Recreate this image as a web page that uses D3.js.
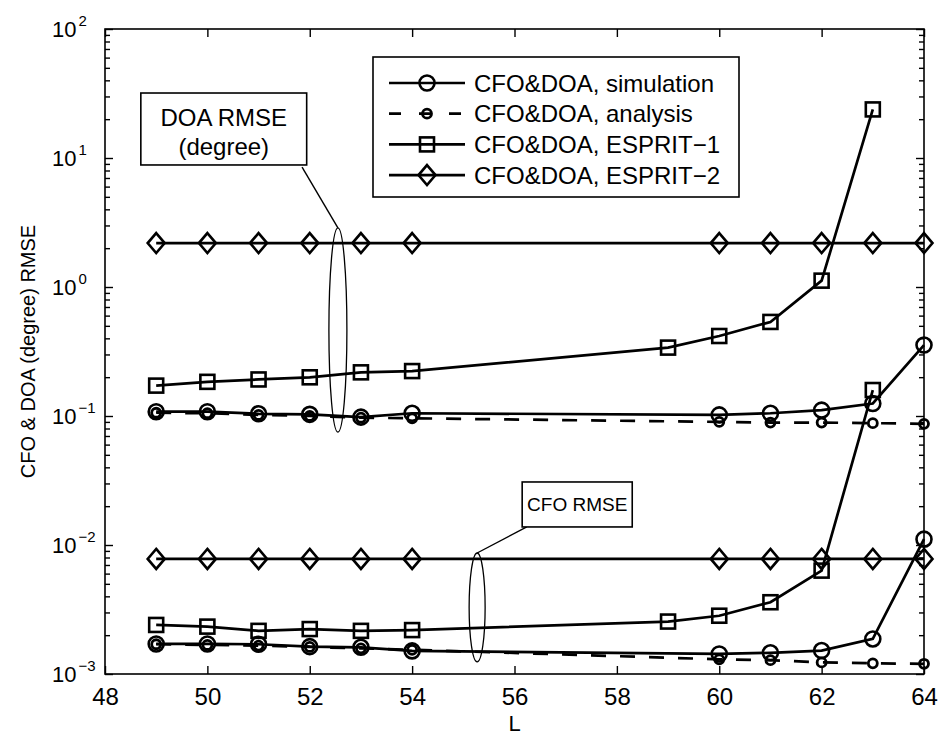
<!DOCTYPE html>
<html>
<head>
<meta charset="utf-8">
<script src="https://cdn.jsdelivr.net/npm/d3@7"></script>
<style>
  body { margin: 0; background: #fff; }
  svg text { font-family: "Liberation Sans", Arial, sans-serif; fill: #000; }
</style>
</head>
<body>
<svg id="canvas"></svg>
<script>
// Data.
var Lsim  = [49, 50, 51, 52, 53, 54, 60, 61, 62, 63, 64];
var Lesp1 = [49, 50, 51, 52, 53, 54, 59, 60, 61, 62, 63];

var doaSim = [0.108, 0.108, 0.104, 0.103, 0.098, 0.105, 0.102, 0.105, 0.111, 0.125, 0.355];
var cfoSim = [0.00171, 0.00171, 0.00170, 0.00163, 0.00161, 0.00151, 0.00143, 0.00146, 0.00152, 0.00187, 0.0111];

var doaAna = [0.106, 0.105, 0.102, 0.100, 0.097, 0.096, 0.090, 0.089, 0.089, 0.088, 0.087];
var cfoAna = [0.00170, 0.00168, 0.00166, 0.00162, 0.00158, 0.00154, 0.00130, 0.00128, 0.00123, 0.00121, 0.00120];

var doaEsp1 = [0.172, 0.184, 0.192, 0.1995, 0.218, 0.223, 0.339, 0.417, 0.536, 1.12, 23.8];
var cfoEsp1 = [0.00240, 0.00233, 0.00216, 0.00223, 0.00216, 0.00219, 0.00255, 0.00283, 0.00360, 0.00633, 0.159];

var doaEsp2 = [2.19, 2.19, 2.19, 2.19, 2.19, 2.19, 2.19, 2.19, 2.19, 2.19, 2.19];
var cfoEsp2 = [0.0078, 0.0078, 0.0078, 0.0078, 0.0078, 0.0078, 0.0078, 0.0078, 0.0078, 0.0078, 0.0078];

var xTicks = [48, 50, 52, 54, 56, 58, 60, 62, 64];
var yExps  = [-3, -2, -1, 0, 1, 2];

var legendLabels = ['CFO&DOA, simulation', 'CFO&DOA, analysis', 'CFO&DOA, ESPRIT\u22121', 'CFO&DOA, ESPRIT\u22122'];

// Canvas and plot box.
var width = 940, height = 740;
var plot = { left: 105, right: 924, top: 29, bottom: 674 };

var svg = d3.select('#canvas').attr('width', width).attr('height', height);

var x = d3.scaleLinear().domain([48, 64]).range([plot.left, plot.right]);
var y = d3.scaleLog().domain([1e-3, 1e2]).range([plot.bottom, plot.top]);

// Minor log ticks (2..9 per decade).
var minor = [];
yExps.slice(0, -1).forEach(function(e) {
  for (var k = 2; k <= 9; k++) minor.push(k * Math.pow(10, e));
});
var majors = yExps.map(function(e) { return Math.pow(10, e); });

function styleAxis(g) {
  g.select('.domain').remove();
  g.selectAll('.tick line').attr('stroke', '#000').attr('stroke-width', 1.4);
}

// Bottom / top axes.
var gx = svg.append('g')
  .attr('transform', 'translate(0,' + plot.bottom + ')')
  .call(d3.axisBottom(x).tickValues(xTicks).tickSize(-8).tickPadding(14).tickFormat(d3.format('d')));
styleAxis(gx);
gx.selectAll('.tick text').attr('font-size', 24).attr('fill', '#000');

svg.append('g')
  .attr('transform', 'translate(0,' + plot.top + ')')
  .call(d3.axisTop(x).tickValues(xTicks).tickSize(-8).tickFormat(''))
  .call(styleAxis);

// Left / right axes, majors and minors.
var gy = svg.append('g')
  .attr('transform', 'translate(' + plot.left + ',0)')
  .call(d3.axisLeft(y).tickValues(majors).tickSize(-8).tickFormat(''));
styleAxis(gy);

svg.append('g')
  .attr('transform', 'translate(' + plot.left + ',0)')
  .call(d3.axisLeft(y).tickValues(minor).tickSize(-5).tickFormat(''))
  .call(styleAxis);

svg.append('g')
  .attr('transform', 'translate(' + plot.right + ',0)')
  .call(d3.axisRight(y).tickValues(majors).tickSize(-8).tickFormat(''))
  .call(styleAxis);

svg.append('g')
  .attr('transform', 'translate(' + plot.right + ',0)')
  .call(d3.axisRight(y).tickValues(minor).tickSize(-5).tickFormat(''))
  .call(styleAxis);

// Y tick labels 10^n.
yExps.forEach(function(e) {
  var t = svg.append('text')
    .attr('x', plot.left - 53)
    .attr('y', y(Math.pow(10, e)))
    .attr('dy', '0.36em')
    .attr('font-size', 22);
  t.append('tspan').text('10');
  t.append('tspan').attr('dx', 2).attr('dy', -11).attr('font-size', 15)
    .text(e < 0 ? '\u2212' + (-e) : String(e));
});

// Plot box.
svg.append('rect')
  .attr('x', plot.left).attr('y', plot.top)
  .attr('width', plot.right - plot.left).attr('height', plot.bottom - plot.top)
  .attr('fill', 'none').attr('stroke', '#000').attr('stroke-width', 1.6);

// Axis titles.
svg.append('text')
  .attr('text-anchor', 'middle')
  .attr('transform', 'translate(' + 35 + ',' + (plot.top + plot.bottom) / 2 + ')rotate(-90)')
  .attr('font-size', 20)
  .text('CFO & DOA (degree) RMSE');

svg.append('text')
  .attr('text-anchor', 'middle')
  .attr('x', (plot.left + plot.right) / 2)
  .attr('y', 731)
  .attr('font-size', 22)
  .text('L');

// Markers.
function drawMarker(g, kind, cx, cy) {
  var common = function(s) { return s.attr('fill', 'none').attr('stroke', '#000').attr('stroke-width', 2.6); };
  if (kind === 'circle') {
    common(g.append('circle').attr('cx', cx).attr('cy', cy).attr('r', 7.5));
  } else if (kind === 'small') {
    common(g.append('circle').attr('cx', cx).attr('cy', cy).attr('r', 4.5)).attr('stroke-width', 2.8);
  } else if (kind === 'square') {
    common(g.append('rect').attr('x', cx - 7).attr('y', cy - 7).attr('width', 14).attr('height', 14));
  } else if (kind === 'diamond') {
    common(g.append('path').attr('d', 'M' + cx + ',' + (cy - 10) + 'L' + (cx + 8.5) + ',' + cy +
      'L' + cx + ',' + (cy + 10) + 'L' + (cx - 8.5) + ',' + cy + 'Z'));
  }
}

var dash = '15,14';
var series = [
  { xs: Lsim,  ys: doaSim,  marker: 'circle',  dash: null },
  { xs: Lsim,  ys: cfoSim,  marker: 'circle',  dash: null },
  { xs: Lsim,  ys: doaAna,  marker: 'small',   dash: dash },
  { xs: Lsim,  ys: cfoAna,  marker: 'small',   dash: dash },
  { xs: Lesp1, ys: doaEsp1, marker: 'square',  dash: null },
  { xs: Lesp1, ys: cfoEsp1, marker: 'square',  dash: null },
  { xs: Lsim,  ys: doaEsp2, marker: 'diamond', dash: null },
  { xs: Lsim,  ys: cfoEsp2, marker: 'diamond', dash: null }
];

var line = d3.line().x(function(d) { return x(d[0]); }).y(function(d) { return y(d[1]); });

series.forEach(function(s) {
  var pts = s.xs.map(function(v, i) { return [v, s.ys[i]]; });
  var g = svg.append('g');
  g.append('path')
    .attr('d', line(pts))
    .attr('fill', 'none')
    .attr('stroke', '#000')
    .attr('stroke-width', 2.7)
    .attr('stroke-dasharray', s.dash);
  pts.forEach(function(p) { drawMarker(g, s.marker, x(p[0]), y(p[1])); });
});

// Annotations: ellipses, leader lines and label boxes (data coordinates).
function ellipse(cxv, topv, botv, rx) {
  var top = y(topv), bot = y(botv);
  svg.append('ellipse')
    .attr('cx', x(cxv)).attr('cy', (top + bot) / 2)
    .attr('rx', rx).attr('ry', (bot - top) / 2)
    .attr('fill', 'none').attr('stroke', '#000').attr('stroke-width', 1.3);
}
function leader(x1, y1, x2, y2) {
  svg.append('line')
    .attr('x1', x(x1)).attr('y1', y(y1)).attr('x2', x(x2)).attr('y2', y(y2))
    .attr('stroke', '#000').attr('stroke-width', 1.4);
}
function box(x1, y1, x2, y2) {
  svg.append('rect')
    .attr('x', x(x1)).attr('y', y(y1))
    .attr('width', x(x2) - x(x1)).attr('height', y(y2) - y(y1))
    .attr('fill', '#fff').attr('stroke', '#000').attr('stroke-width', 1.6);
}

// DOA annotation.
ellipse(52.55, 2.87, 0.075, 9);
leader(51.85, 8.5, 52.55, 2.87);
box(48.70, 31.9, 51.94, 8.83);
svg.append('text').attr('text-anchor', 'middle')
  .attr('x', x(50.32)).attr('y', y(31.9) + 33).attr('font-size', 24).text('DOA RMSE');
svg.append('text').attr('text-anchor', 'middle')
  .attr('x', x(50.32)).attr('y', y(31.9) + 62).attr('font-size', 24).text('(degree)');

// CFO annotation.
ellipse(55.27, 0.00867, 0.00124, 8);
leader(56.24, 0.0138, 55.27, 0.00867);
box(56.15, 0.0308, 58.30, 0.0138);
svg.append('text').attr('text-anchor', 'middle')
  .attr('x', (x(56.15) + x(58.30)) / 2).attr('y', (y(0.0308) + y(0.0138)) / 2)
  .attr('dy', '0.36em').attr('font-size', 19).text('CFO RMSE');

// Legend.
var legend = { x: 373, y: 57, w: 366, h: 140, row0: 83, rowStep: 30.7, lx1: 389, lx2: 465, tx: 474 };
svg.append('rect')
  .attr('x', legend.x).attr('y', legend.y).attr('width', legend.w).attr('height', legend.h)
  .attr('fill', '#fff').attr('stroke', '#000').attr('stroke-width', 1.6);

var legendMarkers = ['circle', 'small', 'square', 'diamond'];
legendLabels.forEach(function(lbl, i) {
  var ry = legend.row0 + i * legend.rowStep;
  var g = svg.append('g');
  g.append('line')
    .attr('x1', legend.lx1).attr('x2', legend.lx2).attr('y1', ry).attr('y2', ry)
    .attr('stroke', '#000').attr('stroke-width', 2.7)
    .attr('stroke-dasharray', i === 1 ? '12,18' : null);
  drawMarker(g, legendMarkers[i], (legend.lx1 + legend.lx2) / 2, ry);
  g.append('text')
    .attr('x', legend.tx).attr('y', ry).attr('dy', '0.36em')
    .attr('font-size', 24).text(lbl);
});
</script>
</body>
</html>
